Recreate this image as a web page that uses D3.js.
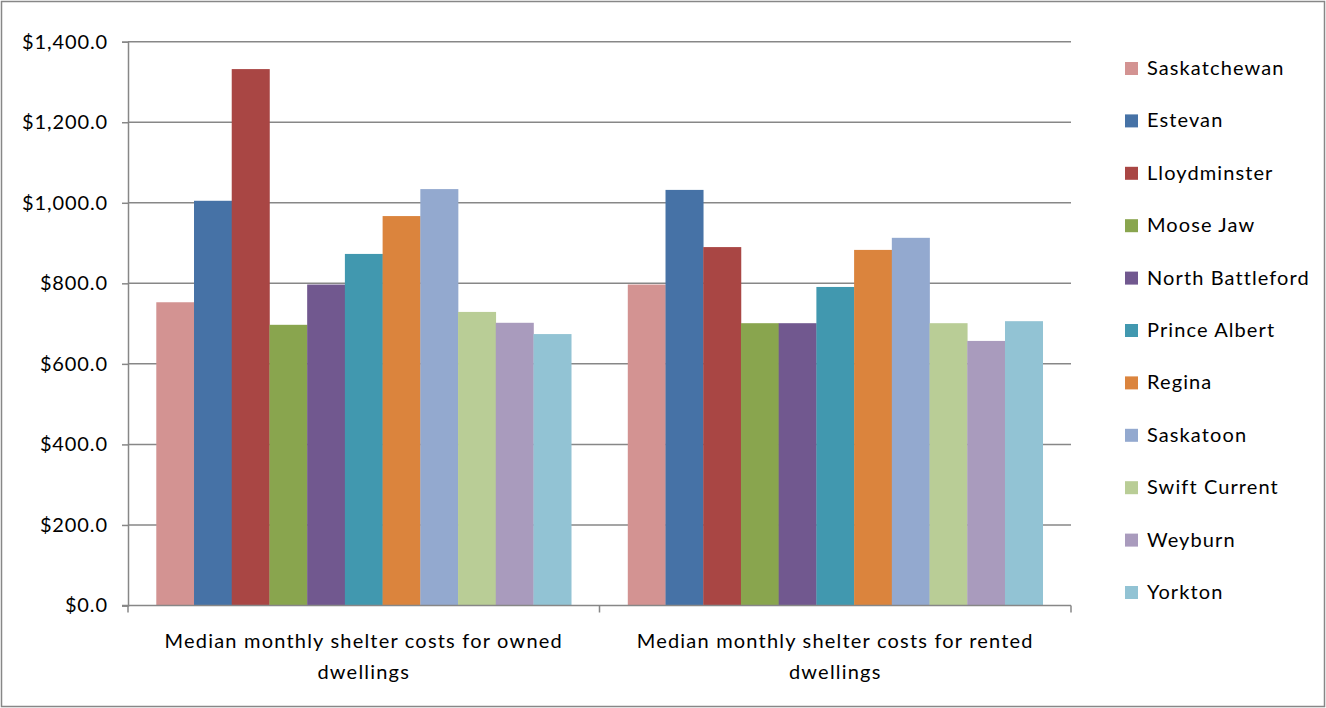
<!DOCTYPE html>
<html>
<head>
<meta charset="utf-8">
<script src="https://cdn.jsdelivr.net/npm/d3@7"></script>
<style>
html,body{margin:0;padding:0;background:#fff;}
svg{display:block;}
text{font-family:Lato,"Open Sans",sans-serif;fill:#000;}
</style>
</head>
<body>
<svg id="chart" width="1326" height="708"></svg>
<script>
const categories = [
  ["Median monthly shelter costs for owned", "dwellings"],
  ["Median monthly shelter costs for rented", "dwellings"]
];
const seriesNames = ["Saskatchewan","Estevan","Lloydminster","Moose Jaw","North Battleford","Prince Albert","Regina","Saskatoon","Swift Current","Weyburn","Yorkton"];
const seriesColors = ["#D39392","#4672A6","#A94644","#89A54E","#71588F","#4198AF","#DB843D","#93A9CF","#B9CD96","#A99BBD","#92C3D4"];
const ownedValues  = [753, 1005, 1332, 697, 797, 873, 967, 1034, 729, 702, 674];
const rentedValues = [797, 1032, 890, 701, 701, 791, 883, 913, 701, 657, 706];
const yTicks = [0, 200, 400, 600, 800, 1000, 1200, 1400];

const svg = d3.select("#chart");
const W = 1326, H = 708;
const plot = {left:128, right:1071, top:41.7, bottom:605.5};

// outer border
svg.append("rect").attr("x",1.5).attr("y",1.5).attr("width",W-3).attr("height",H-3)
  .attr("fill","#fff").attr("stroke","#878787").attr("stroke-width",1.5);

const y = d3.scaleLinear().domain([0,1400]).range([plot.bottom, plot.top]);
const x0 = d3.scaleBand().domain(d3.range(categories.length)).range([plot.left, plot.right]).paddingInner(0).paddingOuter(0);
// gap width 150%: 11 bars + 1.5 bar gap per category
const x1 = d3.scaleBand().domain(d3.range(seriesNames.length))
  .range([0, x0.bandwidth()]).paddingInner(0).paddingOuter(0.75);

// gridlines
svg.append("g").selectAll("line").data(yTicks.filter(d=>d>0)).join("line")
  .attr("x1",plot.left).attr("x2",plot.right)
  .attr("y1",d=>y(d)).attr("y2",d=>y(d))
  .attr("stroke","#878787").attr("stroke-width",1.5);

// bars
const allValues = [ownedValues, rentedValues];
const g = svg.append("g");
categories.forEach((c,ci)=>{
  g.append("g").selectAll("rect").data(allValues[ci]).join("rect")
    .attr("x",(d,i)=>x0(ci)+x1(i))
    .attr("width",x1.bandwidth()+0.3)
    .attr("y",d=>y(d))
    .attr("height",d=>y(0)-y(d))
    .attr("fill",(d,i)=>seriesColors[i]);
});

// y axis
const yAxis = d3.axisLeft(y).tickValues(yTicks).tickSize(6).tickPadding(14)
  .tickFormat(d=>"$"+d3.format(",.1f")(d));
const ya = svg.append("g").attr("transform",`translate(${plot.left},0)`).call(yAxis);
ya.select(".domain").attr("stroke","#878787").attr("stroke-width",1.5);
ya.selectAll(".tick line").attr("stroke","#878787").attr("stroke-width",1.5);
ya.selectAll(".tick text").style("font-size","20px").style("letter-spacing","0.9px")
  .style("font-family","Lato,sans-serif").attr("fill","#000");

// x axis
svg.append("line").attr("x1",plot.left-6).attr("x2",plot.right).attr("y1",plot.bottom).attr("y2",plot.bottom)
  .attr("stroke","#878787").attr("stroke-width",1.5);
const xBounds = [plot.left, x0(1), plot.right];
svg.append("g").selectAll("line").data(xBounds).join("line")
  .attr("x1",d=>d).attr("x2",d=>d).attr("y1",plot.bottom).attr("y2",plot.bottom+7)
  .attr("stroke","#878787").attr("stroke-width",1.5);

// category labels
categories.forEach((c,ci)=>{
  const cx = x0(ci)+x0.bandwidth()/2;
  const t = svg.append("text").attr("text-anchor","middle").style("font-size","20px").style("letter-spacing","1.2px");
  c.forEach((line,li)=>{
    t.append("tspan").attr("x",cx).attr("y",648+li*31).text(line);
  });
});

// legend
const lg = svg.append("g");
seriesNames.forEach((n,i)=>{
  const ly = 68 + i*52.4;
  lg.append("rect").attr("x",1125).attr("y",ly-6).attr("width",13).attr("height",13).attr("fill",seriesColors[i]);
  lg.append("text").attr("x",1147).attr("y",ly+7).style("font-size","20px").style("letter-spacing","1.1px").text(n);
});
</script>
</body>
</html>
